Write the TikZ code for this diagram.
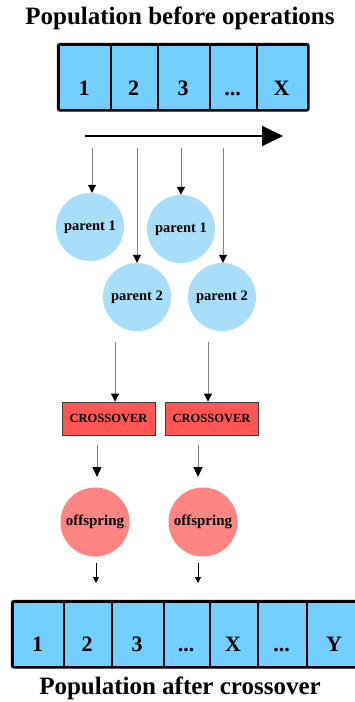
\documentclass[tikz,border=0pt]{standalone}
\usepackage{fontspec}
\setmainfont{Liberation Serif}
\usetikzlibrary{arrows.meta}
\definecolor{cellblue}{HTML}{73CFFF}
\definecolor{parblue}{HTML}{A8DEFA}
\definecolor{xred}{HTML}{FF5555}
\definecolor{offred}{HTML}{FF8585}
\definecolor{linegray}{HTML}{808080}
\newcommand{\mydots}{...}
\tikzset{
  cell/.style={draw=black, line width=1.6pt, fill=cellblue, rectangle, inner sep=0pt, anchor=north west},
  celltext/.style={font=\fontsize{22}{22}\selectfont\bfseries, anchor=base},
  title/.style={font=\fontsize{25}{25}\selectfont\bfseries},
  parent/.style={circle, fill=parblue, minimum size=68pt, inner sep=0pt, font=\fontsize{14.5}{15}\selectfont\bfseries},
  offs/.style={circle, fill=offred, minimum size=69pt, inner sep=0pt, font=\fontsize{15}{15}\selectfont\bfseries},
  xover/.style={rectangle, draw=black!75, line width=0.8pt, fill=xred, minimum width=93pt, minimum height=33pt, inner sep=0pt, font=\fontsize{12.5}{13}\selectfont\bfseries},
  feed/.style={draw=linegray, line width=1pt, -{Triangle[color=black, length=8pt, width=8pt]}},
  feedbig/.style={draw=linegray, line width=1pt, -{Triangle[color=black, length=10pt, width=9pt]}},
  feedsmall/.style={draw=black, line width=0.8pt, -{Triangle[color=black, length=6pt, width=6pt]}},
}
\begin{document}
\begin{tikzpicture}[x=1pt, y=-1pt]
\useasboundingbox (0,0) rectangle (355,702);
\fill[white] (0,0) rectangle (355,702);

% top title
\node[title] (t1) at (180,18) {Population before operations};

% top array
\foreach \i/\a/\b/\t in {1/58/110/1, 2/110/157/2, 3/157/209/3, 4/209/256/\mydots, 5/256/307/X} {
  \node[cell, minimum width=\b pt-\a pt, minimum height=65pt] (a\i) at (\a,44) {};
  \node[celltext] (at\i) at ({(\a+\b)/2},95) {\t};
}
\draw[line width=2.2pt, rounded corners=2pt] (a1.north west) rectangle (a5.south east);

% big arrow
\coordinate (bs) at (85,136);
\coordinate (be) at (283,136);
\draw[line width=2pt, -{Triangle[length=21pt, width=20pt]}] (bs) -- (be);

% parents
\node[parent] (p1a) at (90,227) {parent 1};
\node[parent] (p1b) at (181,229) {parent 1};
\node[parent] (p2a) at (137,297) {parent 2};
\node[parent] (p2b) at (222,297) {parent 2};

\coordinate (s1) at (92,148);
\coordinate (s2) at (137,148);
\coordinate (s3) at (181,148);
\coordinate (s4) at (223,148);
\draw[feed] (s1) -- (p1a.north -| s1);
\draw[feed] (s3) -- (p1b.north -| s3);
\draw[feed] (s2) -- (p2a.north -| s2);
\draw[feed] (s4) -- (p2b.north -| s4);

% crossover
\node[xover] (x1) at (108.5,418.5) {CROSSOVER};
\node[xover] (x2) at (211.5,418.5) {CROSSOVER};
\coordinate (q1) at (115,342);
\coordinate (q2) at (208,342);
\draw[feed] (q1) -- (x1.north -| q1);
\draw[feed] (q2) -- (x2.north -| q2);

% offspring
\node[offs] (o1) at (95,522) {offspring};
\node[offs] (o2) at (203,522) {offspring};
\coordinate (r1) at (97,445);
\coordinate (r2) at (198,445);
\coordinate (r1e) at (97,477);
\coordinate (r2e) at (198,477);
\draw[feedbig] (r1) -- (r1e);
\draw[feedbig] (r2) -- (r2e);

% bottom array
\foreach \i/\a/\b/\t in {1/12/63/1, 2/63/111/2, 3/111/163/3, 4/163/209/\mydots, 5/209/257/X, 6/257/306/\mydots, 7/306/362/Y} {
  \node[cell, minimum width=\b pt-\a pt, minimum height=65pt] (b\i) at (\a,601) {};
  \node[celltext] (bt\i) at ({(\a+\b)/2},651) {\t};
}
\draw[line width=2.2pt, rounded corners=2pt] (b1.north west) rectangle (b7.south east);

\coordinate (u1) at (96,563);
\coordinate (u2) at (198,563);
\draw[feedsmall] (u1) -- (u1 |- 0,583);
\draw[feedsmall] (u2) -- (u2 |- 0,583);

% bottom title
\node[title] (t2) at (180,688) {Population after crossover};
\end{tikzpicture}
\end{document}
